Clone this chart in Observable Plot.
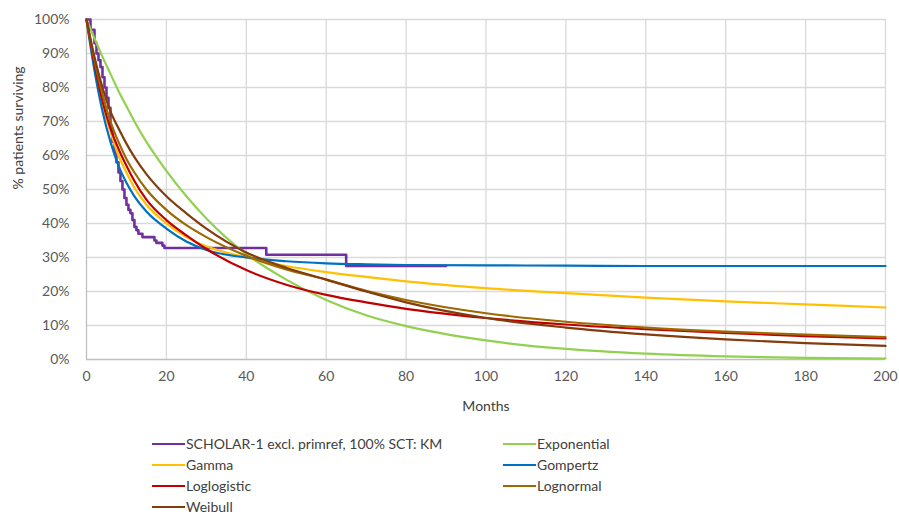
<!DOCTYPE html>
<html>
<head>
<meta charset="utf-8">
<script src="https://cdn.jsdelivr.net/npm/d3@7"></script>
<script src="https://cdn.jsdelivr.net/npm/@observablehq/plot@0.6"></script>
<style>
  body { margin: 0; background: #fff; font-family: Lato, "Open Sans", sans-serif; }
  #wrap { position: relative; width: 899px; height: 515px; overflow: hidden; }
  #legend { position: absolute; top: 433px; left: 152px; display: grid;
            grid-template-columns: 351px 220px; grid-auto-rows: 21px;
            font-size: 14px; line-height: 16px; color: #404040; }
  .item { display: flex; align-items: center; white-space: nowrap; }
  .sw { display: inline-block; width: 33px; height: 2px; margin-right: 1px; }
</style>
</head>
<body>
<div id="wrap"><div id="chart"></div><div id="legend"></div></div>
<script>
// ---- data ----
const xTicks = [0, 20, 40, 60, 80, 100, 120, 140, 160, 180, 200];
const yTicks = [0, 10, 20, 30, 40, 50, 60, 70, 80, 90, 100];

const kmMonths = [0,1,2,2.5,3,3.5,4,4.5,5,5.5,6,6.5,7,7.5,8,8.5,9,9.5,10,10.5,11,11.5,12,12.5,13,14,17,17.5,19,19.5,45,65,90];
const kmSurv   = [100,97,93,90,88,86,83,80,77,74,68,64,61,58,55,52.5,50,47.5,45.5,44,43,41,39,38,37,36,35,34.3,33.5,32.8,30.8,27.5,27.5];

const fitMonths   = [0,2,4,6,8,10,12,15,20,25,30,40,50,60,70,80,100,120,140,160,180,200];
const exponential = [100,94.5,89,84,79,74.5,70,64,55.5,48,41.5,31,23.5,17.5,13,9.8,5.6,3.1,1.7,0.9,0.5,0.3];
const gamma       = [100,86,75,67,60,55,50.5,45.5,40,36,33.3,30,27.5,25.7,24.3,23,21,19.5,18.2,17.1,16.2,15.3];
const gompertz    = [100,85,73,64,57,52,48,43.5,38.5,34.7,32.2,30,28.9,28.3,28,27.8,27.7,27.6,27.5,27.5,27.5,27.5];
const loglogistic = [100,87,76,68,62,57,52.5,47,41,36.5,32.5,26.3,22,19,16.8,14.9,12.2,10.3,8.9,7.8,6.9,6.2];
const lognormal   = [100,88,78,70,64,59,55,50,44,39.5,36,30.5,26.5,23.5,20.2,17.5,13.6,11.1,9.4,8.2,7.3,6.6];
const weibull     = [100,89,80,73,68,63.5,59.5,54.5,48,43,38.5,31.5,27,23.5,20,16.8,12.2,9.4,7.4,5.9,4.8,4.0];

const seriesNames  = ["SCHOLAR-1 excl. primref, 100% SCT: KM","Exponential","Gamma","Gompertz","Loglogistic","Lognormal","Weibull"];
const seriesColors = ["#7030A0","#92D050","#FFC000","#0070C0","#C00000","#9C6A00","#843C0C"];
const fitValues = [exponential, gamma, gompertz, loglogistic, lognormal, weibull];

// ---- build tables ----
const kmData = kmMonths.map((m, i) => ({m, s: kmSurv[i]}));
const fitData = fitValues.map((vals, k) => fitMonths.map((m, i) => ({m, s: vals[i], k: k + 1})));

const marks = [
  Plot.gridY(yTicks.filter(d => d > 0), {stroke: "#d9d9d9", strokeOpacity: 1, strokeWidth: 1.3}),
  Plot.gridX(xTicks.filter(d => d > 0), {stroke: "#d9d9d9", strokeOpacity: 1, strokeWidth: 1.3}),
  Plot.ruleY([0], {stroke: "#bfbfbf", strokeWidth: 1.3}),
  Plot.ruleX([0], {stroke: "#bfbfbf", strokeWidth: 1.3}),
  Plot.axisX({ticks: xTicks, tickSize: 0, tickPadding: 12, label: null, fontSize: 14, color: "#595959"}),
  Plot.axisY({ticks: yTicks, tickSize: 0, tickPadding: 17, label: null, tickFormat: d => d + "%", fontSize: 14, color: "#595959"}),
  Plot.line(kmData, {x: "m", y: "s", curve: "step-after", stroke: seriesColors[0], strokeWidth: 2.6})
];
fitData.forEach((d, k) => {
  marks.push(Plot.line(d, {x: "m", y: "s", curve: "monotone-x", stroke: seriesColors[k + 1], strokeWidth: 2.2}));
});
marks.push(Plot.text(["Months"], {frameAnchor: "bottom", dy: 51, fontSize: 14, fill: "#404040"}));
marks.push(Plot.text(["% patients surviving"], {frameAnchor: "left", dx: -68, rotate: -90, fontSize: 14, fill: "#404040"}));

const chart = Plot.plot({
  width: 899, height: 420,
  marginLeft: 86, marginRight: 14, marginTop: 19, marginBottom: 61,
  style: {fontFamily: "Lato, 'Open Sans', sans-serif", fontSize: "14px", background: "white"},
  x: {domain: [0, 200]},
  y: {domain: [0, 100]},
  marks
});
document.getElementById("chart").appendChild(chart);

// ---- legend (2 columns, row-major like the reference) ----
const legend = document.getElementById("legend");
seriesNames.forEach((name, i) => {
  const it = document.createElement("div");
  it.className = "item";
  const sw = document.createElement("span");
  sw.className = "sw";
  sw.style.background = seriesColors[i];
  it.appendChild(sw);
  it.appendChild(document.createTextNode(name));
  legend.appendChild(it);
});
</script>
</body>
</html>
